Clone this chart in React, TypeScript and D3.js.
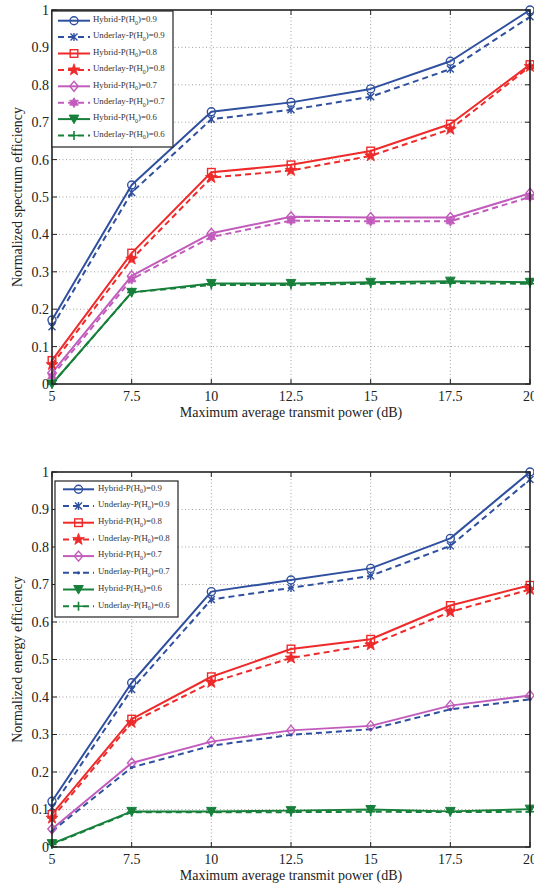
import React from "react";
import * as d3 from "d3";

const xValues = [5, 7.5, 10, 12.5, 15, 17.5, 20];
const xTickLabels = ["5", "7.5", "10", "12.5", "15", "17.5", "20"];
const yTicks = [0, 0.1, 0.2, 0.3, 0.4, 0.5, 0.6, 0.7, 0.8, 0.9, 1];
const yTickLabels = ["0", "0.1", "0.2", "0.3", "0.4", "0.5", "0.6", "0.7", "0.8", "0.9", "1"];

// Spectrum efficiency (top chart)
const seHybrid09 = [0.171, 0.532, 0.728, 0.753, 0.789, 0.863, 1.0];
const seUnderlay09 = [0.153, 0.512, 0.708, 0.733, 0.768, 0.842, 0.982];
const seHybrid08 = [0.063, 0.35, 0.566, 0.586, 0.623, 0.695, 0.854];
const seUnderlay08 = [0.052, 0.334, 0.552, 0.571, 0.61, 0.681, 0.849];
const seHybrid07 = [0.03, 0.289, 0.403, 0.447, 0.445, 0.445, 0.51];
const seUnderlay07 = [0.021, 0.28, 0.393, 0.437, 0.435, 0.435, 0.5];
const seHybrid06 = [0.0, 0.245, 0.269, 0.269, 0.272, 0.275, 0.272];
const seUnderlay06 = [0.0, 0.245, 0.265, 0.265, 0.268, 0.27, 0.268];

// Energy efficiency (bottom chart)
const eeHybrid09 = [0.122, 0.438, 0.681, 0.712, 0.743, 0.823, 1.0];
const eeUnderlay09 = [0.105, 0.42, 0.66, 0.691, 0.723, 0.803, 0.98];
const eeHybrid08 = [0.087, 0.341, 0.454, 0.528, 0.554, 0.644, 0.698];
const eeUnderlay08 = [0.077, 0.332, 0.439, 0.504, 0.539, 0.627, 0.687];
const eeHybrid07 = [0.048, 0.224, 0.281, 0.311, 0.323, 0.377, 0.404];
const eeUnderlay07 = [0.042, 0.212, 0.27, 0.299, 0.314, 0.367, 0.394];
const eeHybrid06 = [0.009, 0.095, 0.095, 0.097, 0.1, 0.095, 0.101];
const eeUnderlay06 = [0.007, 0.093, 0.093, 0.093, 0.094, 0.093, 0.094];

const BLUE = "#2f4f9f";
const RED = "#ee2a2a";
const MAGENTA = "#c25cbc";
const GREEN = "#17803a";

type Marker = "circle" | "asterisk" | "square" | "pentagram" | "diamond" | "hexagram" | "triDown" | "plus" | "point";

interface Series {
  name: string;
  values: number[];
  color: string;
  dashed: boolean;
  marker: Marker;
}

const legendNames = [
  ["Hybrid", "0.9"], ["Underlay", "0.9"], ["Hybrid", "0.8"], ["Underlay", "0.8"],
  ["Hybrid", "0.7"], ["Underlay", "0.7"], ["Hybrid", "0.6"], ["Underlay", "0.6"],
];

const topSeries: Series[] = [
  { name: "h09", values: seHybrid09, color: BLUE, dashed: false, marker: "circle" },
  { name: "u09", values: seUnderlay09, color: BLUE, dashed: true, marker: "asterisk" },
  { name: "h08", values: seHybrid08, color: RED, dashed: false, marker: "square" },
  { name: "u08", values: seUnderlay08, color: RED, dashed: true, marker: "pentagram" },
  { name: "h07", values: seHybrid07, color: MAGENTA, dashed: false, marker: "diamond" },
  { name: "u07", values: seUnderlay07, color: MAGENTA, dashed: true, marker: "hexagram" },
  { name: "h06", values: seHybrid06, color: GREEN, dashed: false, marker: "triDown" },
  { name: "u06", values: seUnderlay06, color: GREEN, dashed: true, marker: "plus" },
];

const bottomSeries: Series[] = [
  { name: "h09", values: eeHybrid09, color: BLUE, dashed: false, marker: "circle" },
  { name: "u09", values: eeUnderlay09, color: BLUE, dashed: true, marker: "asterisk" },
  { name: "h08", values: eeHybrid08, color: RED, dashed: false, marker: "square" },
  { name: "u08", values: eeUnderlay08, color: RED, dashed: true, marker: "pentagram" },
  { name: "h07", values: eeHybrid07, color: MAGENTA, dashed: false, marker: "diamond" },
  { name: "u07", values: eeUnderlay07, color: BLUE, dashed: true, marker: "point" },
  { name: "h06", values: eeHybrid06, color: GREEN, dashed: false, marker: "triDown" },
  { name: "u06", values: eeUnderlay06, color: GREEN, dashed: true, marker: "plus" },
];

function starPath(n: number, ro: number, ri: number): string {
  const pts: string[] = [];
  for (let i = 0; i < n * 2; i++) {
    const r = i % 2 === 0 ? ro : ri;
    const a = -Math.PI / 2 + (i * Math.PI) / n;
    pts.push(`${(r * Math.cos(a)).toFixed(2)},${(r * Math.sin(a)).toFixed(2)}`);
  }
  return "M" + pts.join("L") + "Z";
}

function MarkerShape({ type, x, y, color }: { type: Marker; x: number; y: number; color: string }) {
  const t = `translate(${x},${y})`;
  const sw = 1.4;
  switch (type) {
    case "circle":
      return <circle cx={x} cy={y} r={4} fill="none" stroke={color} strokeWidth={sw} />;
    case "square":
      return <rect x={x - 3.8} y={y - 3.8} width={7.6} height={7.6} fill="none" stroke={color} strokeWidth={sw} />;
    case "diamond":
      return <path transform={t} d="M0,-5L4.2,0L0,5L-4.2,0Z" fill="none" stroke={color} strokeWidth={sw} />;
    case "triDown":
      return <path transform={t} d="M-4.8,-4L4.8,-4L0,4.6Z" fill={color} stroke={color} strokeWidth={1} />;
    case "pentagram":
      return <path transform={t} d={starPath(5, 6.2, 2.5)} fill={color} stroke={color} strokeWidth={0.8} />;
    case "hexagram":
      return <path transform={t} d={starPath(6, 5, 2.9)} fill={color} stroke={color} strokeWidth={0.8} />;
    case "asterisk":
      return <path transform={t} d="M-3.5,-3.5L3.5,3.5M-3.5,3.5L3.5,-3.5M0,-4L0,4" fill="none" stroke={color} strokeWidth={1.4} />;
    case "plus":
      return <path transform={t} d="M-4.5,0L4.5,0M0,-4.5L0,4.5" fill="none" stroke={color} strokeWidth={1.6} />;
    case "point":
      return <circle cx={x} cy={y} r={1.6} fill={color} stroke="none" />;
  }
  return null;
}

interface PanelProps {
  top: number;
  bottom: number;
  series: Series[];
  yLabel: string;
  legend: { x0: number; y0: number; x1: number; y1: number; rowY0: number; rowStep: number; lineX0: number; lineX1: number; textX: number };
}

const LEFT = 52;
const RIGHT = 530;
const FONT = "'Liberation Serif', 'Times New Roman', serif";

function Panel({ top, bottom, series, yLabel, legend }: PanelProps) {
  const x = d3.scaleLinear().domain([5, 20]).range([LEFT, RIGHT]);
  const y = d3.scaleLinear().domain([0, 1]).range([bottom, top]);
  const line = d3.line<number>().x((_, i) => x(xValues[i])).y((d) => y(d));
  return (
    <g>
      {/* grid */}
      {xValues.slice(1, -1).map((v) => (
        <line key={"gx" + v} x1={x(v)} x2={x(v)} y1={top} y2={bottom} stroke="#8a8a8a" strokeWidth={0.8} strokeDasharray="1,2.5" />
      ))}
      {yTicks.slice(1, -1).map((v) => (
        <line key={"gy" + v} x1={LEFT} x2={RIGHT} y1={y(v)} y2={y(v)} stroke="#8a8a8a" strokeWidth={0.8} strokeDasharray="1,2.5" />
      ))}
      {/* tick marks */}
      {xValues.map((v) => (
        <g key={"tx" + v}>
          <line x1={x(v)} x2={x(v)} y1={bottom} y2={bottom - 5} stroke="#222" strokeWidth={1} />
          <line x1={x(v)} x2={x(v)} y1={top} y2={top + 5} stroke="#222" strokeWidth={1} />
        </g>
      ))}
      {yTicks.map((v) => (
        <g key={"ty" + v}>
          <line x1={LEFT} x2={LEFT + 5} y1={y(v)} y2={y(v)} stroke="#222" strokeWidth={1} />
          <line x1={RIGHT} x2={RIGHT - 5} y1={y(v)} y2={y(v)} stroke="#222" strokeWidth={1} />
        </g>
      ))}
      {/* series lines */}
      {series.map((s) => (
        <path key={"l" + s.name} d={line(s.values) || ""} fill="none" stroke={s.color} strokeWidth={2}
          strokeDasharray={s.dashed ? "6,4" : undefined} strokeLinejoin="round" />
      ))}
      {series.map((s) => (
        <g key={"m" + s.name}>
          {s.values.map((v, i) => (
            <MarkerShape key={i} type={s.marker} x={x(xValues[i])} y={y(v)} color={s.color} />
          ))}
        </g>
      ))}
      {/* box */}
      <rect x={LEFT} y={top} width={RIGHT - LEFT} height={bottom - top} fill="none" stroke="#222" strokeWidth={1.6} />
      {/* tick labels */}
      {yTicks.map((v, i) => (
        <text key={"yl" + v} x={LEFT - 3} y={y(v)} dy="0.35em" textAnchor="end" fontFamily={FONT} fontSize={14} fill="#222">{yTickLabels[i]}</text>
      ))}
      {xValues.map((v, i) => (
        <text key={"xl" + v} x={x(v)} y={bottom + 17} textAnchor="middle" fontFamily={FONT} fontSize={14} fill="#222">{xTickLabels[i]}</text>
      ))}
      <text x={(LEFT + RIGHT) / 2} y={bottom + 33} textAnchor="middle" fontFamily={FONT} fontSize={14} fill="#222">Maximum average transmit power (dB)</text>
      <text transform={`translate(22,${(top + bottom) / 2}) rotate(-90)`} textAnchor="middle" fontFamily={FONT} fontSize={14} fill="#222">{yLabel}</text>
      {/* legend */}
      <rect x={legend.x0} y={legend.y0} width={legend.x1 - legend.x0} height={legend.y1 - legend.y0} fill="#fff" stroke="#222" strokeWidth={1.2} />
      {series.map((s, i) => {
        const ly = legend.rowY0 + i * legend.rowStep;
        const mx = (legend.lineX0 + legend.lineX1) / 2;
        return (
          <g key={"lg" + s.name}>
            <line x1={legend.lineX0} x2={legend.lineX1} y1={ly} y2={ly} stroke={s.color} strokeWidth={2}
              strokeDasharray={s.dashed ? "6,4" : undefined} />
            <MarkerShape type={s.marker} x={mx} y={ly} color={s.color} />
            <text x={legend.textX} y={ly} dy="0.15em" fontFamily={FONT} fontSize={8.8} fill="#333">
              {legendNames[i][0]}-P(H<tspan fontSize={6} dy="2.5">0</tspan><tspan dy="-2.5">)={legendNames[i][1]}</tspan>
            </text>
          </g>
        );
      })}
    </g>
  );
}

export default function App() {
  return (
    <svg width={534} height={887} style={{ position: "absolute", left: 0, top: 0, background: "#fff" }}>
      <rect x={0} y={0} width={534} height={887} fill="#fff" />
      <Panel top={10} bottom={384} series={topSeries} yLabel="Normalized spectrum efficiency"
        legend={{ x0: 52, y0: 11, x1: 173, y1: 147, rowY0: 20.7, rowStep: 16.4, lineX0: 58, lineX1: 90, textX: 93 }} />
      <Panel top={472} bottom={847} series={bottomSeries} yLabel="Normalized energy efficiency"
        legend={{ x0: 55, y0: 481, x1: 178, y1: 617, rowY0: 489.3, rowStep: 16.7, lineX0: 63, lineX1: 94, textX: 98 }} />
    </svg>
  );
}
